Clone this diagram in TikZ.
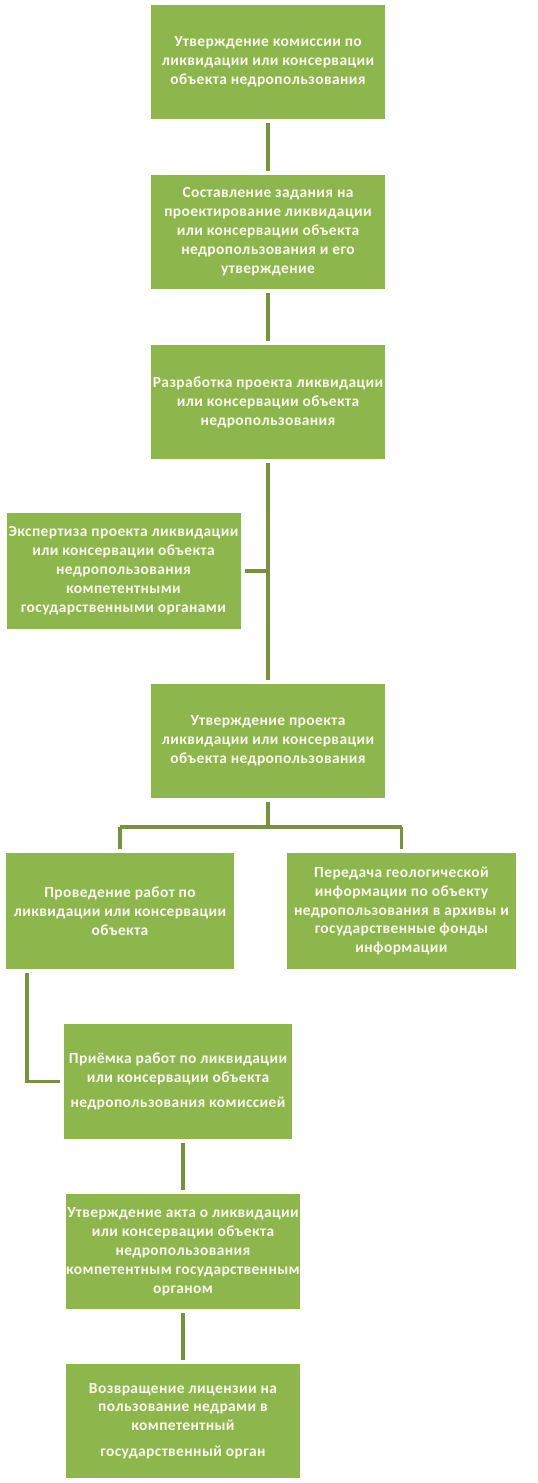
\documentclass[tikz,border=0pt]{standalone}
\usepackage{fontspec}
\setmainfont{Carlito}[LetterSpace=2.5]
\usetikzlibrary{positioning}
\definecolor{boxgreen}{RGB}{141,183,76}
\definecolor{linegreen}{RGB}{118,147,60}
\definecolor{boxtext}{RGB}{250,250,240}
\begin{document}
\begin{tikzpicture}[x=0.75pt,y=-0.75pt,
  stepbox/.style={rectangle, fill=boxgreen, text=boxtext, inner sep=0pt,
    minimum width=175.5pt, minimum height=85.5pt, align=center,
    font=\fontsize{11.6}{14.2}\selectfont\bfseries},
  conn/.style={draw=linegreen, line width=2.7pt},
  gap/.style={shorten <=3pt, shorten >=3pt}]
\useasboundingbox (0,0) rectangle (538,1483);
\fill[white] (0,0) rectangle (538,1483);

\node[stepbox] (b1) at (268,62) {Утверждение комиссии по\\ликвидации или консервации\\объекта недропользования};
\node[stepbox] (b2) at (268,232) {Составление задания на\\проектирование ликвидации\\или консервации объекта\\недропользования и его\\утверждение};
\node[stepbox] (b3) at (268,402) {Разработка проекта ликвидации\\или консервации объекта\\недропользования};
\node[stepbox, minimum height=87pt] (b4) at (123.5,571) {Экспертиза проекта ликвидации\\или консервации объекта\\недропользования\\компетентными\\государственными органами};
\node[stepbox] (b5) at (268,741) {Утверждение проекта\\ликвидации или консервации\\объекта недропользования};
\node[stepbox, minimum width=171pt, minimum height=87pt] (b6) at (120,911) {Проведение работ по\\ликвидации или консервации\\объекта};
\node[stepbox, minimum width=171.75pt, minimum height=87pt] (b7) at (401.5,911) {Передача геологической\\информации по объекту\\недропользования в архивы и\\государственные фонды\\информации};
\node[stepbox, minimum width=171pt, minimum height=86.25pt] (b8) at (178,1081.5) {Приёмка работ по ликвидации\\или консервации объекта\\[4pt]недропользования комиссией};
\node[stepbox, minimum height=86.25pt] (b9) at (183,1251.5) {Утверждение акта о ликвидации\\или консервации объекта\\недропользования\\компетентным государственным\\органом};
\node[stepbox] (b10) at (183,1421) {Возвращение лицензии на\\пользование недрами в\\компетентный\\[5pt]государственный орган};

\draw[conn,gap] (b1) -- (b2);
\draw[conn,gap] (b2) -- (b3);
\draw[conn,gap] (b3) -- (b5);
\draw[conn,shorten <=3pt] (b4.east) -- (b4.east -| b3.south);

\coordinate (j) at (268,827);
\draw[conn,shorten <=3pt] (b5.south) -- (j);
\draw[conn] (b6.north |- j) -- (b7.north |- j);
\draw[conn,shorten >=3pt] (b6.north |- j) -- (b6.north);
\draw[conn,shorten >=3pt] (b7.north |- j) -- (b7.north);

\path (b6.south west) ++(21,0) coordinate (c6);
\draw[conn,gap] (c6) |- (b8.west);

\draw[conn,gap] (b8.south -| b9.north) -- (b9.north);
\draw[conn,gap] (b9) -- (b10);
\end{tikzpicture}
\end{document}
